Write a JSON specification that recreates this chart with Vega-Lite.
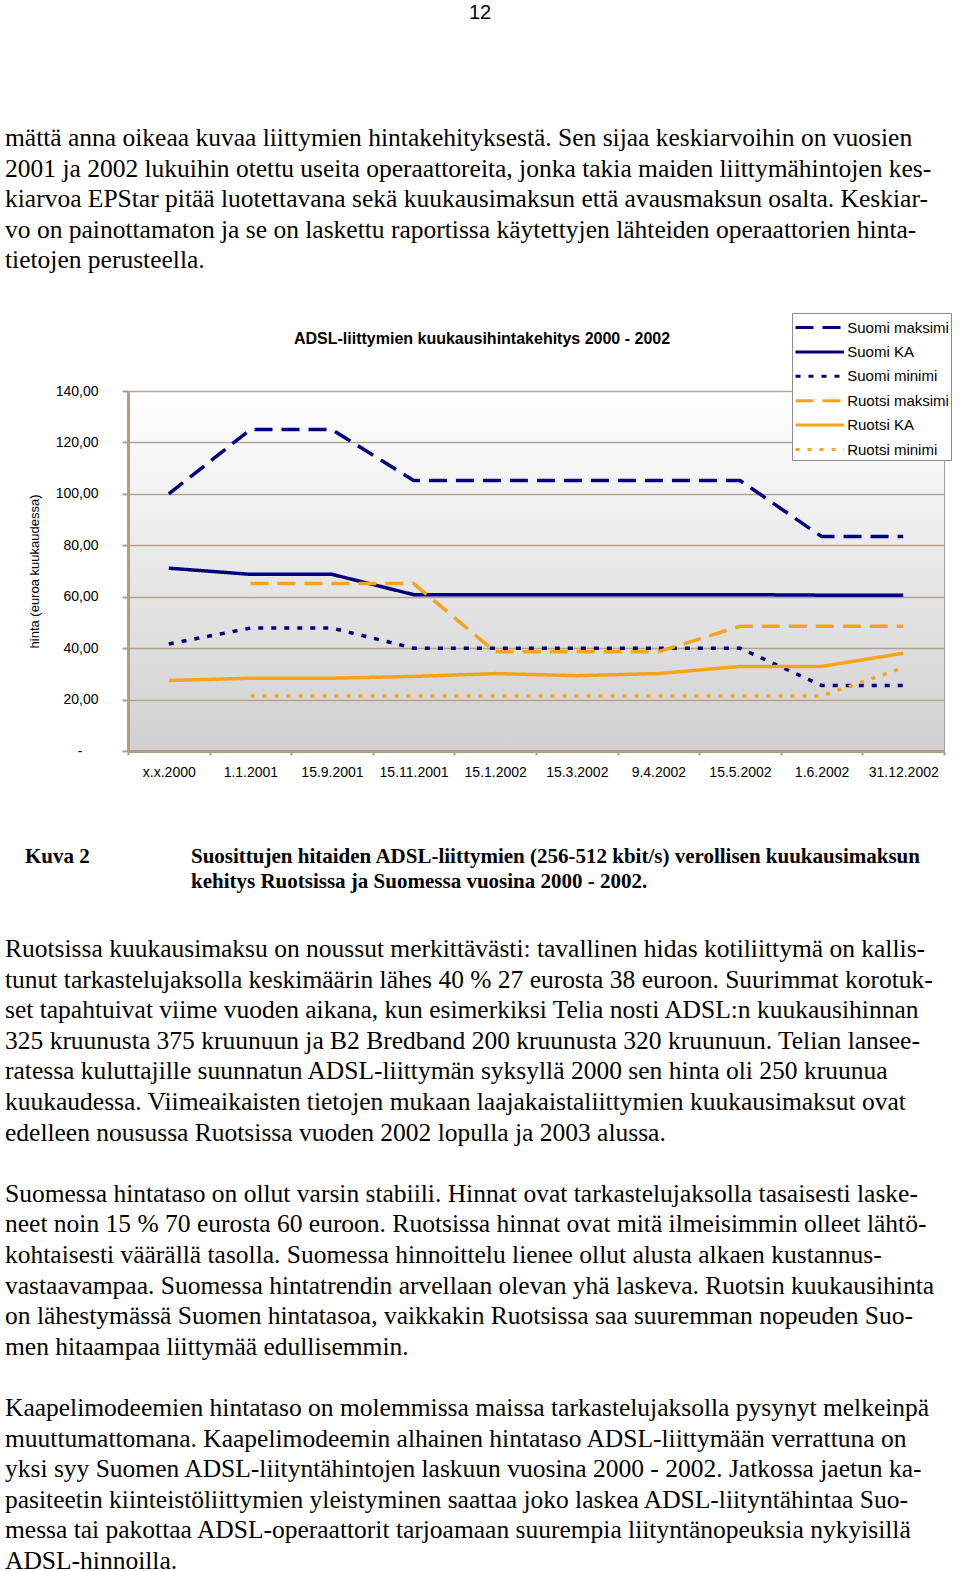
{
  "$schema": "https://vega.github.io/schema/vega-lite/v6.json",
  "padding": 0,
  "background": "white",
  "spacing": 10,
  "config": {"view": {"stroke": null}},
  "resolve": {
    "scale": {"color": "independent", "strokeDash": "independent"},
    "legend": {"color": "independent", "strokeDash": "independent"}
  },
  "vconcat": [
    {
      "width": 832,
      "height": 302,
      "data": {"values": [
        {"kind": "page", "col": 1, "line": -4, "text": "12"},
        {"kind": "body", "col": 0, "line": 0, "text": "mättä anna oikeaa kuvaa liittymien hintakehityksestä. Sen sijaa keskiarvoihin on vuosien"},
        {"kind": "body", "col": 0, "line": 1, "text": "2001 ja 2002 lukuihin otettu useita operaattoreita, jonka takia maiden liittymähintojen kes-"},
        {"kind": "body", "col": 0, "line": 2, "text": "kiarvoa EPStar pitää luotettavana sekä kuukausimaksun että avausmaksun osalta. Keskiar-"},
        {"kind": "body", "col": 0, "line": 3, "text": "vo on painottamaton ja se on laskettu raportissa käytettyjen lähteiden operaattorien hinta-"},
        {"kind": "body", "col": 0, "line": 4, "text": "tietojen perusteella."}
      ]},
      "encoding": {
        "x": {"field": "col", "type": "quantitative", "scale": {"domain": [0, 1], "range": [-123, 352]}, "axis": null},
        "y": {"field": "line", "type": "quantitative", "scale": {"domain": [-4.51, 5.36], "reverse": true, "nice": false, "zero": false}, "axis": null},
        "text": {"field": "text"}
      },
      "layer": [
        {
          "transform": [{"filter": "datum.kind === 'page'"}],
          "mark": {"type": "text", "align": "center", "baseline": "middle", "font": "Liberation Sans", "fontSize": 20, "color": "black", "dy": -3}
        },
        {
          "transform": [{"filter": "datum.kind === 'body'"}],
          "mark": {"type": "text", "align": "left", "baseline": "middle", "font": "Liberation Serif", "fontSize": 25.5, "color": "black"}
        }
      ]
    },
    {
      "width": 816,
      "height": 360,
      "view": {
        "stroke": "#a0a0a0",
        "strokeWidth": 1,
        "fill": {"gradient": "linear", "x1": 0, "y1": 0, "x2": 0, "y2": 1, "stops": [{"offset": 0, "color": "#ffffff"}, {"offset": 1, "color": "#d0d0d0"}]}
      },
      "title": {
        "text": "ADSL-liittymien kuukausihintakehitys 2000 - 2002",
        "font": "Liberation Sans", "fontSize": 16, "fontWeight": "bold", "color": "black",
        "anchor": "middle", "frame": "group", "baseline": "middle", "offset": -42, "dx": -54
      },
      "data": {"values": [
        {"date": "x.x.2000", "series": "Suomi maksimi", "value": 100},
        {"date": "1.1.2001", "series": "Suomi maksimi", "value": 125},
        {"date": "15.9.2001", "series": "Suomi maksimi", "value": 125},
        {"date": "15.11.2001", "series": "Suomi maksimi", "value": 105.2},
        {"date": "15.1.2002", "series": "Suomi maksimi", "value": 105.2},
        {"date": "15.3.2002", "series": "Suomi maksimi", "value": 105.2},
        {"date": "9.4.2002", "series": "Suomi maksimi", "value": 105.2},
        {"date": "15.5.2002", "series": "Suomi maksimi", "value": 105.2},
        {"date": "1.6.2002", "series": "Suomi maksimi", "value": 83.4},
        {"date": "31.12.2002", "series": "Suomi maksimi", "value": 83.4},
        {"date": "x.x.2000", "series": "Suomi KA", "value": 71.1},
        {"date": "1.1.2001", "series": "Suomi KA", "value": 68.7},
        {"date": "15.9.2001", "series": "Suomi KA", "value": 68.7},
        {"date": "15.11.2001", "series": "Suomi KA", "value": 60.8},
        {"date": "15.1.2002", "series": "Suomi KA", "value": 60.8},
        {"date": "15.3.2002", "series": "Suomi KA", "value": 60.8},
        {"date": "9.4.2002", "series": "Suomi KA", "value": 60.8},
        {"date": "15.5.2002", "series": "Suomi KA", "value": 60.8},
        {"date": "1.6.2002", "series": "Suomi KA", "value": 60.6},
        {"date": "31.12.2002", "series": "Suomi KA", "value": 60.6},
        {"date": "x.x.2000", "series": "Suomi minimi", "value": 41.6},
        {"date": "1.1.2001", "series": "Suomi minimi", "value": 47.8},
        {"date": "15.9.2001", "series": "Suomi minimi", "value": 47.8},
        {"date": "15.11.2001", "series": "Suomi minimi", "value": 40},
        {"date": "15.1.2002", "series": "Suomi minimi", "value": 40},
        {"date": "15.3.2002", "series": "Suomi minimi", "value": 40},
        {"date": "9.4.2002", "series": "Suomi minimi", "value": 40},
        {"date": "15.5.2002", "series": "Suomi minimi", "value": 40},
        {"date": "1.6.2002", "series": "Suomi minimi", "value": 25.5},
        {"date": "31.12.2002", "series": "Suomi minimi", "value": 25.5},
        {"date": "1.1.2001", "series": "Ruotsi maksimi", "value": 65.1},
        {"date": "15.9.2001", "series": "Ruotsi maksimi", "value": 65.1},
        {"date": "15.11.2001", "series": "Ruotsi maksimi", "value": 65.1},
        {"date": "15.1.2002", "series": "Ruotsi maksimi", "value": 38.6},
        {"date": "15.3.2002", "series": "Ruotsi maksimi", "value": 38.6},
        {"date": "9.4.2002", "series": "Ruotsi maksimi", "value": 38.6},
        {"date": "15.5.2002", "series": "Ruotsi maksimi", "value": 48.5},
        {"date": "1.6.2002", "series": "Ruotsi maksimi", "value": 48.5},
        {"date": "31.12.2002", "series": "Ruotsi maksimi", "value": 48.5},
        {"date": "x.x.2000", "series": "Ruotsi KA", "value": 27.4},
        {"date": "1.1.2001", "series": "Ruotsi KA", "value": 28.3},
        {"date": "15.9.2001", "series": "Ruotsi KA", "value": 28.3},
        {"date": "15.11.2001", "series": "Ruotsi KA", "value": 29.0},
        {"date": "15.1.2002", "series": "Ruotsi KA", "value": 30.1},
        {"date": "15.3.2002", "series": "Ruotsi KA", "value": 29.3},
        {"date": "9.4.2002", "series": "Ruotsi KA", "value": 30.1},
        {"date": "15.5.2002", "series": "Ruotsi KA", "value": 32.9},
        {"date": "1.6.2002", "series": "Ruotsi KA", "value": 32.9},
        {"date": "31.12.2002", "series": "Ruotsi KA", "value": 38.0},
        {"date": "1.1.2001", "series": "Ruotsi minimi", "value": 21.4},
        {"date": "15.9.2001", "series": "Ruotsi minimi", "value": 21.4},
        {"date": "15.11.2001", "series": "Ruotsi minimi", "value": 21.4},
        {"date": "15.1.2002", "series": "Ruotsi minimi", "value": 21.4},
        {"date": "15.3.2002", "series": "Ruotsi minimi", "value": 21.4},
        {"date": "9.4.2002", "series": "Ruotsi minimi", "value": 21.4},
        {"date": "15.5.2002", "series": "Ruotsi minimi", "value": 21.4},
        {"date": "1.6.2002", "series": "Ruotsi minimi", "value": 21.4},
        {"date": "31.12.2002", "series": "Ruotsi minimi", "value": 32.4}
      ]},
      "mark": {"type": "line", "strokeWidth": 3.5},
      "encoding": {
        "x": {
          "field": "date", "type": "ordinal", "bandPosition": 0.5,
          "sort": ["x.x.2000", "1.1.2001", "15.9.2001", "15.11.2001", "15.1.2002", "15.3.2002", "9.4.2002", "15.5.2002", "1.6.2002", "31.12.2002"],
          "scale": {"type": "band", "paddingInner": 0, "paddingOuter": 0},
          "axis": {
            "title": null, "labelAngle": 0, "tickBand": "extent", "grid": false,
            "domainColor": "#b09c84", "domainWidth": 3, "tickColor": "#b09c84", "tickWidth": 2, "tickSize": 4,
            "labelPadding": 10, "labelFont": "Liberation Sans", "labelFontSize": 14, "labelColor": "black"
          }
        },
        "y": {
          "field": "value", "type": "quantitative",
          "scale": {"domain": [0, 140], "nice": false},
          "axis": {
            "title": ["", "hinta (euroa kuukaudessa)"],
            "titleFont": "Liberation Sans", "titleFontSize": 13, "titleFontWeight": "normal", "titleColor": "black",
            "titleLineHeight": 27, "titlePadding": 14,
            "values": [0, 20, 40, 60, 80, 100, 120, 140],
            "labelExpr": "datum.value === 0 ? '-' : replace(format(datum.value, '.2f'), '.', ',')",
            "labelFont": "Liberation Sans", "labelFontSize": 14, "labelColor": "black",
            "labelPadding": {"condition": {"test": "datum.value === 0", "value": 40}, "value": 24},
            "tickSize": 6, "tickColor": "#b09c84", "tickWidth": 2,
            "domainColor": "#b09c84", "domainWidth": 3,
            "grid": true, "gridColor": "#b4a48e", "gridWidth": 1.5
          }
        },
        "color": {
          "field": "series", "type": "nominal",
          "scale": {
            "domain": ["Suomi maksimi", "Suomi KA", "Suomi minimi", "Ruotsi maksimi", "Ruotsi KA", "Ruotsi minimi"],
            "range": ["#000080", "#000080", "#000080", "#f9a21c", "#f9a21c", "#f9a21c"]
          },
          "legend": {
            "title": null, "orient": "none", "legendX": 664, "legendY": -78,
            "fillColor": "white", "strokeColor": "#8c8c8c", "padding": 2,
            "symbolType": "M-2.2,0H2.2", "symbolSize": 484, "symbolStrokeWidth": 3, "symbolOffset": 13.2,
            "labelOffset": 15, "rowPadding": 3.4,
            "labelFont": "Liberation Sans", "labelFontSize": 15, "labelColor": "black"
          }
        },
        "strokeDash": {
          "field": "series", "type": "nominal",
          "scale": {
            "domain": ["Suomi maksimi", "Suomi KA", "Suomi minimi", "Ruotsi maksimi", "Ruotsi KA", "Ruotsi minimi"],
            "range": [[18, 9], [1, 0], [5, 8], [18, 9], [1, 0], [4, 8]]
          },
          "legend": {
            "title": null, "orient": "none", "legendX": 664, "legendY": -78,
            "fillColor": "white", "strokeColor": "#8c8c8c", "padding": 2,
            "symbolType": "M-2.2,0H2.2", "symbolSize": 484, "symbolStrokeWidth": 3, "symbolOffset": 13.2,
            "labelOffset": 15, "rowPadding": 3.4,
            "labelFont": "Liberation Sans", "labelFontSize": 15, "labelColor": "black"
          }
        }
      }
    },
    {
      "width": 832,
      "height": 781,
      "data": {"values": [
        {"kind": "caption", "col": 1, "line": -3, "text": ["Kuva 2"]},
        {"kind": "caption", "col": 2, "line": -3, "text": ["Suosittujen hitaiden ADSL-liittymien (256-512 kbit/s) verollisen kuukausimaksun", "kehitys Ruotsissa ja Suomessa vuosina 2000 - 2002."]},
        {"kind": "body", "col": 0, "line": 0, "text": "Ruotsissa kuukausimaksu on noussut merkittävästi: tavallinen hidas kotiliittymä on kallis-"},
        {"kind": "body", "col": 0, "line": 1, "text": "tunut tarkastelujaksolla keskimäärin lähes 40 % 27 eurosta 38 euroon. Suurimmat korotuk-"},
        {"kind": "body", "col": 0, "line": 2, "text": "set tapahtuivat viime vuoden aikana, kun esimerkiksi Telia nosti ADSL:n kuukausihinnan"},
        {"kind": "body", "col": 0, "line": 3, "text": "325 kruunusta 375 kruunuun ja B2 Bredband 200 kruunusta 320 kruunuun. Telian lansee-"},
        {"kind": "body", "col": 0, "line": 4, "text": "ratessa kuluttajille suunnatun ADSL-liittymän syksyllä 2000 sen hinta oli 250 kruunua"},
        {"kind": "body", "col": 0, "line": 5, "text": "kuukaudessa. Viimeaikaisten tietojen mukaan laajakaistaliittymien kuukausimaksut ovat"},
        {"kind": "body", "col": 0, "line": 6, "text": "edelleen nousussa Ruotsissa vuoden 2002 lopulla ja 2003 alussa."},
        {"kind": "body", "col": 0, "line": 8, "text": "Suomessa hintataso on ollut varsin stabiili. Hinnat ovat tarkastelujaksolla tasaisesti laske-"},
        {"kind": "body", "col": 0, "line": 9, "text": "neet noin 15 % 70 eurosta 60 euroon. Ruotsissa hinnat ovat mitä ilmeisimmin olleet lähtö-"},
        {"kind": "body", "col": 0, "line": 10, "text": "kohtaisesti väärällä tasolla. Suomessa hinnoittelu lienee ollut alusta alkaen kustannus-"},
        {"kind": "body", "col": 0, "line": 11, "text": "vastaavampaa. Suomessa hintatrendin arvellaan olevan yhä laskeva. Ruotsin kuukausihinta"},
        {"kind": "body", "col": 0, "line": 12, "text": "on lähestymässä Suomen hintatasoa, vaikkakin Ruotsissa saa suuremman nopeuden Suo-"},
        {"kind": "body", "col": 0, "line": 13, "text": "men hitaampaa liittymää edullisemmin."},
        {"kind": "body", "col": 0, "line": 15, "text": "Kaapelimodeemien hintataso on molemmissa maissa tarkastelujaksolla pysynyt melkeinpä"},
        {"kind": "body", "col": 0, "line": 16, "text": "muuttumattomana. Kaapelimodeemin alhainen hintataso ADSL-liittymään verrattuna on"},
        {"kind": "body", "col": 0, "line": 17, "text": "yksi syy Suomen ADSL-liityntähintojen laskuun vuosina 2000 - 2002. Jatkossa jaetun ka-"},
        {"kind": "body", "col": 0, "line": 18, "text": "pasiteetin kiinteistöliittymien yleistyminen saattaa joko laskea ADSL-liityntähintaa Suo-"},
        {"kind": "body", "col": 0, "line": 19, "text": "messa tai pakottaa ADSL-operaattorit tarjoamaan suurempia liityntänopeuksia nykyisillä"},
        {"kind": "body", "col": 0, "line": 20, "text": "ADSL-hinnoilla."}
      ]},
      "encoding": {
        "x": {"field": "col", "type": "quantitative", "scale": {"domain": [0, 1, 2], "range": [-123, -103, 63]}, "axis": null},
        "y": {"field": "line", "type": "quantitative", "scale": {"domain": [-5.196, 20.327], "reverse": true, "nice": false, "zero": false}, "axis": null},
        "text": {"field": "text"}
      },
      "layer": [
        {
          "transform": [{"filter": "datum.kind === 'caption'"}],
          "mark": {"type": "text", "align": "left", "baseline": "middle", "font": "Liberation Serif", "fontSize": 21, "fontWeight": "bold", "lineHeight": 25, "color": "black"}
        },
        {
          "transform": [{"filter": "datum.kind === 'body'"}],
          "mark": {"type": "text", "align": "left", "baseline": "middle", "font": "Liberation Serif", "fontSize": 25.5, "color": "black"}
        }
      ]
    }
  ]
}
